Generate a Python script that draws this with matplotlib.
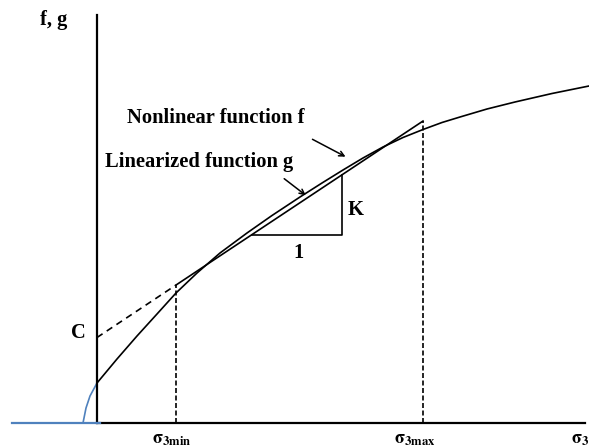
import numpy as np
import matplotlib.pyplot as plt

plt.rcParams['font.family'] = ['Liberation Serif', 'DejaVu Serif']
plt.rcParams['mathtext.fontset'] = 'stix'

# nonlinear function f (sigma3, f)
f_x = [-14, -11, -7, 0, 20, 40, 60, 79, 100, 123, 150, 175, 203, 225,
       246, 266, 286, 306, 326, 345, 363, 390, 418, 455, 492]
f_y = [0, 15, 27, 40, 64, 87, 109, 130, 150, 170, 190, 207.5, 226, 240,
       253, 265, 276, 285.5, 293.5, 300.5, 306, 314, 321, 329.5, 337]
# part of f left of the origin, drawn in blue
f_low_n = 4

# linearized function g = C + K * sigma3 between sigma3min and sigma3max
C = 85.5
K = 0.664
s3min = 79
s3max = 326

# slope triangle (run of 1 unit, rise of K)
tri_x0 = 155
tri_x1 = 245

x_max = 488
y_max = 408

fig = plt.figure(figsize=(5.89, 4.48), dpi=100)
ax = fig.add_axes([0, 0, 1, 1])
ax.set_xlim(-97, 492)
ax.set_ylim(-25, 423)
ax.axis('off')

def g(x):
    return C + K * np.asarray(x, dtype=float)

# axes
ax.plot([0, 0], [0, y_max], color='black', lw=1.6, zorder=3)
ax.plot([0, x_max], [0, 0], color='black', lw=1.6, zorder=3)
ax.plot([-85, 3], [0, 0], color='#4f81bd', lw=1.6, zorder=4)

# f curve
ax.plot(f_x[:f_low_n], f_y[:f_low_n], color='#4f81bd', lw=1.2)
ax.plot(f_x[f_low_n - 1:], f_y[f_low_n - 1:], color='black', lw=1.2)

# g line and its dashed extension to C
ax.plot([s3min, s3max], g([s3min, s3max]), color='black', lw=1.2)
ax.plot([0, s3min], g([0, s3min]), color='black', lw=1.2, ls=(0, (4, 3)))

# bounds of the linearization range
for s in (s3min, s3max):
    ax.plot([s, s], [0, g(s)], color='black', lw=1.2, ls=(0, (3, 1.5)))

# slope triangle
ax.plot([tri_x0, tri_x1, tri_x1], [g(tri_x0), g(tri_x0), g(tri_x1)],
        color='black', lw=1.2)

txt = dict(fontsize=14.8, fontweight='bold', color='black')
ax.text(-57, 403, 'f, g', ha='left', va='center', **txt)
ax.text(30, 305, 'Nonlinear function f', ha='left', va='center', **txt)
ax.text(8, 261, 'Linearized function g', ha='left', va='center', **txt)
ax.text(251, 213, 'K', ha='left', va='center', **txt)
ax.text(201, 170, '1', ha='center', va='center', **txt)
ax.text(-19, 90, 'C', ha='center', va='center', **txt)

sig = dict(fontsize=13, color='black', va='center')
ax.text(s3min - 4, -16, r'$\mathbf{\sigma}_{\mathbf{3min}}$', ha='center', **sig)
ax.text(s3max - 8, -16, r'$\mathbf{\sigma}_{\mathbf{3max}}$', ha='center', **sig)
ax.text(483, -16, r'$\mathbf{\sigma}_{\mathbf{3}}$', ha='center', **sig)

# pointers to the two curves
arrow = dict(arrowstyle='->', color='black', lw=1.1, mutation_scale=9)
ax.annotate('', xy=(251, 265), xytext=(213, 285), arrowprops=arrow)
ax.annotate('', xy=(211, 226), xytext=(185, 246), arrowprops=arrow)

fig.savefig('out.png', dpi=100)
